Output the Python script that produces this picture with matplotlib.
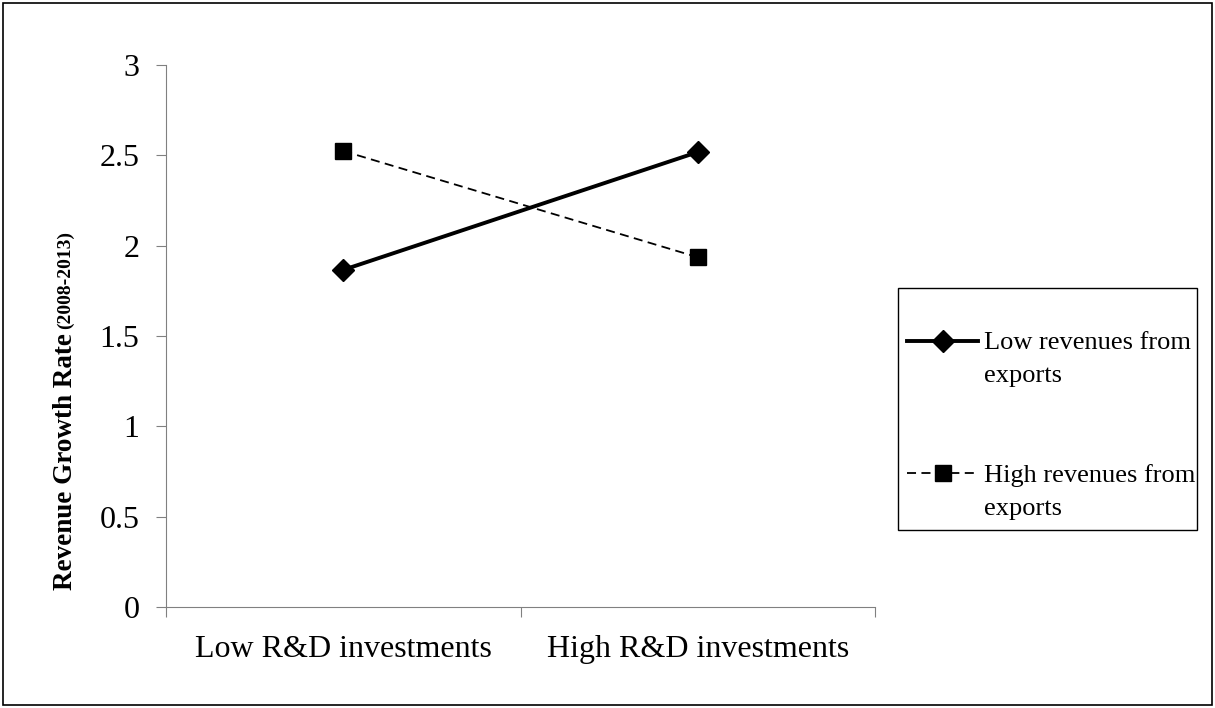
import matplotlib
matplotlib.use("Agg")
import matplotlib.pyplot as plt
from matplotlib.patches import Rectangle

categories = ["Low R&D investments", "High R&D investments"]
low_exports = [1.866, 2.518]
high_exports = [2.524, 1.936]
series_names = ["Low revenues from\nexports", "High revenues from\nexports"]
y_ticks = [0, 0.5, 1, 1.5, 2, 2.5, 3]
y_tick_labels = ["0", "0.5", "1", "1.5", "2", "2.5", "3"]

plt.rcParams["font.family"] = ["Liberation Serif", "DejaVu Serif"]

W, H = 1215, 708
fig = plt.figure(figsize=(W / 100, H / 100), dpi=100)
fig.patches.append(Rectangle((3 / W, 3 / H), 1 - 6 / W, 1 - 6 / H, transform=fig.transFigure,
                             fill=False, edgecolor="black", linewidth=1.2))
# legend box drawn separately so its padding can be set per side
fig.patches.append(Rectangle((898 / W, 1 - 530 / H), (1197 - 898) / W, (530 - 288) / H,
                             transform=fig.transFigure, fill=False, edgecolor="black",
                             linewidth=1.0))

ax = fig.add_axes([166 / W, 1 - 607 / H, (875 - 166) / W, (607 - 65) / H])
pos = [i + 0.5 for i in range(len(categories))]
ax.plot(pos, low_exports, color="black", linewidth=2.8, marker="D", markersize=11,
        label=series_names[0])
ax.plot(pos, high_exports, color="black", linewidth=1.3, linestyle=(0, (5, 3)),
        marker="s", markersize=11, label=series_names[1])

ax.set_xlim(0, len(categories))
ax.set_ylim(0, 3)
ax.set_yticks(y_ticks)
ax.set_yticklabels(y_tick_labels, fontsize=23)
ax.set_xticks(range(len(categories) + 1))
ax.set_xticklabels([])
ax.set_xticks(pos, minor=True)
ax.set_xticklabels(categories, minor=True, fontsize=23)
ax.tick_params(axis="x", which="major", length=7, color="#808080", direction="out")
ax.tick_params(axis="x", which="minor", length=0, pad=20)
ax.tick_params(axis="y", length=7, color="#808080", pad=12)
for side in ["top", "right"]:
    ax.spines[side].set_visible(False)
for side in ["left", "bottom"]:
    ax.spines[side].set_color("#808080")

leg = fig.legend(loc="upper left", bbox_to_anchor=(907 / W, 1 - 332 / H), fontsize=19,
                 frameon=False, handlelength=2.7, labelspacing=2.9, borderpad=0,
                 handletextpad=0.22, borderaxespad=0)
for txt in leg.get_texts():
    txt.set_linespacing(1.65)
# line the legend handles up with the first line of each label
for handle in leg.legend_handles:
    handle.set_ydata(handle.get_ydata() + 13)

# y label: bold main text, smaller bold years after it
fig.canvas.draw()
renderer = fig.canvas.get_renderer()
t1 = fig.text(65 / W, 1 - 590 / H, "Revenue Growth Rate", rotation=90, rotation_mode="anchor",
              ha="left", va="center", fontsize=19.5, fontweight="bold")
bb = t1.get_window_extent(renderer)
fig.text(65 / W, (bb.y1 + 4) / H, "(2008-2013)", rotation=90, rotation_mode="anchor",
         ha="left", va="center", fontsize=14, fontweight="bold")

fig.savefig("out.png", dpi=100)
